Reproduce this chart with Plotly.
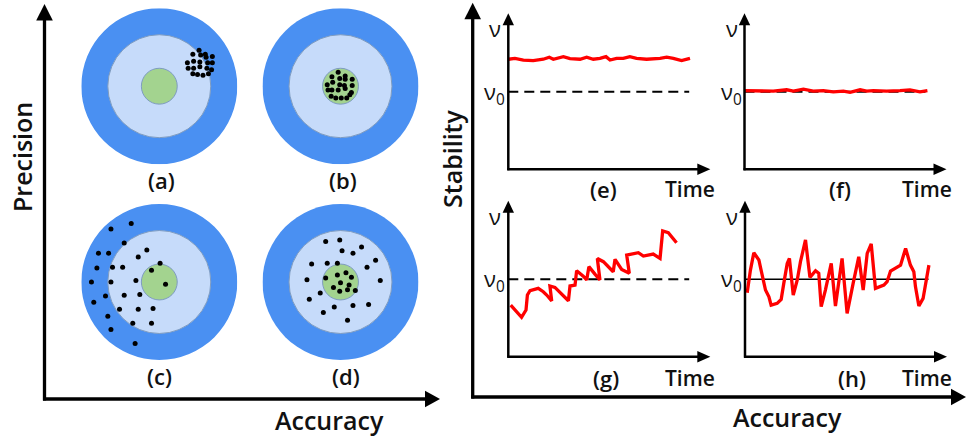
import plotly.graph_objects as go

W, H = 968, 437
FONT = "Open Sans"

# ---- Targets: hit positions, in units of the outer ring radius ----
a_x = [0.51, 0.43, 0.53, 0.59, 0.60, 0.68, 0.36, 0.44, 0.52, 0.62, 0.68,
       0.37, 0.44, 0.52, 0.61, 0.67, 0.43, 0.49, 0.56, 0.63]
a_y = [0.46, 0.41, 0.40, 0.41, 0.37, 0.38, 0.30, 0.32, 0.31, 0.30, 0.30,
       0.23, 0.23, 0.25, 0.23, 0.21, 0.16, 0.15, 0.14, 0.16]

b_x = [-0.03, -0.11, -0.01, 0.06, 0.06, 0.15, -0.17, -0.10, -0.01, 0.05, 0.15,
       -0.16, -0.11, -0.03, 0.06, 0.14, -0.12, -0.06, 0.01, 0.08, 0.12]
b_y = [0.18, 0.12, 0.10, 0.13, 0.09, 0.09, 0.02, 0.05, 0.02, 0.01, 0.01,
       -0.05, -0.05, -0.05, -0.03, -0.08, -0.13, -0.15, -0.15, -0.15, -0.11]

c_x = [-0.62, -0.36, -0.45, -0.78, -0.65, -0.16, -0.27, -0.80, -0.60, -0.47,
       0.01, -0.10, -0.87, -0.62, -0.30, 0.08, -0.84, -0.69, -0.45, -0.25,
       -0.51, -0.27, -0.08, -0.66, -0.34, -0.10, -0.62, -0.31]
c_y = [0.68, 0.75, 0.50, 0.37, 0.37, 0.41, 0.32, 0.18, 0.19, 0.19,
       0.24, 0.15, 0.00, 0.00, 0.02, -0.03, -0.26, -0.18, -0.17, -0.16,
       -0.35, -0.35, -0.34, -0.44, -0.53, -0.53, -0.61, -0.79]

d_x = [-0.19, -0.01, 0.27, 0.02, 0.16, 0.45, -0.37, -0.17, -0.04, 0.34,
       -0.43, -0.19, -0.04, 0.07, 0.14, 0.51, -0.09, 0.00, 0.11, -0.26,
       -0.01, 0.09, 0.19, -0.40, -0.08, 0.16, 0.36, -0.22, 0.09]
d_y = [0.52, 0.54, 0.45, 0.40, 0.37, 0.28, 0.23, 0.24, 0.24, 0.19,
       0.03, 0.05, 0.09, 0.12, 0.06, 0.02, -0.07, -0.01, -0.04, -0.14,
       -0.12, -0.10, -0.11, -0.22, -0.32, -0.30, -0.29, -0.39, -0.49]

# ring radii (outer ring = 1)
R_OUTER, R_MID, R_CORE = 1.0, 0.66, 0.23

# ---- Stability over time ----
NU0 = 5.0

e_t = [0.00, 0.33, 0.75, 1.24, 1.74, 2.04, 2.24, 2.74, 3.07, 3.57, 3.90, 4.23,
       4.56, 4.86, 5.06, 5.39, 5.72, 6.05, 6.38, 6.88, 7.55, 7.88, 8.21, 8.62, 9.04]
e_v = [7.10, 7.16, 7.05, 7.01, 7.10, 7.23, 7.10, 7.27, 7.14, 7.10, 7.23, 7.10,
       7.16, 7.27, 7.05, 7.16, 7.16, 7.27, 7.16, 7.10, 7.16, 7.23, 7.16, 7.01, 7.16]

f_t = [0.00, 0.77, 1.43, 2.10, 2.43, 2.93, 3.42, 3.92, 4.42, 4.92, 5.25, 5.75,
       6.08, 6.41, 7.07, 7.74, 8.23, 8.73, 9.10]
f_v = [5.08, 5.08, 5.04, 5.13, 5.04, 5.17, 5.04, 5.08, 5.00, 5.04, 4.96, 5.13,
       5.04, 5.08, 5.04, 5.08, 5.13, 5.00, 5.08]

g_t = [0.12, 0.33, 0.66, 0.88, 0.95, 1.08, 1.49, 1.74, 1.91, 2.16, 2.07, 2.32,
       2.65, 2.99, 3.07, 3.32, 3.40, 3.73, 3.90, 4.01, 4.31, 4.56, 4.43, 4.73,
       5.22, 5.31, 5.64, 6.02, 5.89, 6.47, 6.72, 7.21, 7.55, 7.68, 7.96, 8.37]
g_v = [3.33, 3.01, 2.54, 3.01, 3.98, 4.26, 4.41, 4.19, 3.98, 3.59, 4.56, 4.47,
       4.04, 3.61, 4.56, 4.62, 5.55, 5.20, 4.95, 5.81, 5.33, 4.95, 6.34, 6.13,
       5.48, 6.28, 5.63, 5.38, 6.56, 6.71, 6.49, 6.62, 6.34, 8.11, 8.00, 7.35]

h_t = [0.11, 0.27, 0.44, 0.69, 0.80, 1.02, 1.19, 1.30, 1.60, 1.80, 1.93, 2.10,
       2.21, 2.40, 2.60, 2.76, 3.01, 3.23, 3.51, 3.67, 3.79, 4.00, 4.29, 4.50,
       4.83, 5.08, 5.38, 5.66, 5.88, 6.08, 6.28, 6.49, 6.91, 7.07, 7.24, 7.49,
       7.74, 7.99, 8.23, 8.40, 8.48, 8.65, 8.86, 9.15]
h_v = [4.13, 5.59, 6.71, 6.24, 5.59, 4.30, 3.87, 3.33, 3.44, 3.70, 4.73, 6.02,
       6.34, 3.98, 4.95, 6.13, 7.53, 5.12, 5.55, 5.38, 3.23, 4.30, 6.02, 3.27,
       6.34, 2.80, 4.73, 6.45, 4.30, 6.67, 7.27, 4.41, 4.62, 4.84, 5.53, 5.74,
       5.91, 6.99, 5.91, 5.48, 4.52, 3.27, 3.76, 5.91]

TARGET_LABELS = ["(a)", "(b)", "(c)", "(d)"]
CHART_LABELS = ["(e)", "(f)", "(g)", "(h)"]

BLUE, LIGHT, GREEN, EDGE = "#4a90f2", "#c6dbfa", "#a3d38f", "#7f9cc0"
INK = "#111111"


def px(x):
    return x / W


def py(y):
    return 1 - y / H


def label(x, y, text, size, weight=600, angle=0, xanchor="center", yanchor="middle",
          yref="paper", yshift=0):
    return dict(xref="paper", yref=yref, x=px(x), y=(py(y) if yref == "paper" else y),
                xanchor=xanchor, yanchor=yanchor, yshift=yshift, text=text,
                textangle=angle, showarrow=False,
                font=dict(family=FONT, size=size, color=INK, weight=weight))


fig = go.Figure()
layout = {}
shapes = []
annotations = []


def ax_names(k):
    s = "" if k == 1 else str(k)
    return f"xaxis{s}", f"yaxis{s}", f"x{s}", f"y{s}"


# ---- four targets ----
targets = [
    (159.3, 86.2, a_x, a_y, (161, 180)),
    (340.5, 86.2, b_x, b_y, (343, 180)),
    (159.3, 282.0, c_x, c_y, (159, 376)),
    (340.5, 282.0, d_x, d_y, (346, 376)),
]
RPX = 78.0
for i, (cx, cy, xs, ys, lab) in enumerate(targets):
    k = i + 1
    xa, ya, xr, yr = ax_names(k)
    layout[xa] = dict(domain=[px(cx - RPX), px(cx + RPX)], range=[-1, 1],
                      visible=False, fixedrange=True)
    layout[ya] = dict(domain=[py(cy + RPX), py(cy - RPX)], range=[-1, 1],
                      visible=False, fixedrange=True)
    for r, col, lw in [(R_OUTER, BLUE, 0), (R_MID, LIGHT, 1), (R_CORE, GREEN, 1)]:
        shapes.append(dict(type="circle", xref=xr, yref=yr, x0=-r, x1=r, y0=-r, y1=r,
                           fillcolor=col, line=dict(color=EDGE, width=lw), layer="below"))
    fig.add_trace(go.Scatter(x=xs, y=ys, mode="markers", xaxis=xr, yaxis=yr,
                             marker=dict(color="black", size=5), hoverinfo="skip"))
    annotations.append(label(lab[0], lab[1], TARGET_LABELS[i], 22))

# ---- four stability charts ----
T_PX = 20.1   # pixels per time unit
V_PX = 15.5   # pixels per stability unit
charts = [
    (508.3, 169.3, e_t, e_v, 9.0, "dash", (603, 189), (690, 189)),
    (744.5, 169.3, f_t, f_v, 9.0, "dash", (840, 189), (927, 189)),
    (508.3, 356.7, g_t, g_v, 9.0, "dash", (606, 378), (690, 378)),
    (745.0, 356.7, h_t, h_v, 9.13, "solid", (852, 378), (927, 378)),
]
for i, (x0, yb, ts, vs, t_end, dash, lab, tlab) in enumerate(charts):
    k = i + 5
    xa, ya, xr, yr = ax_names(k)
    layout[xa] = dict(domain=[px(x0), px(x0 + 10 * T_PX)], range=[0, 10],
                      visible=False, fixedrange=True)
    layout[ya] = dict(domain=[py(yb), py(yb - 10 * V_PX)], range=[0, 10],
                      visible=False, fixedrange=True)
    fig.add_trace(go.Scatter(x=[0, t_end], y=[NU0, NU0], mode="lines", xaxis=xr, yaxis=yr,
                             line=dict(color="black", width=2 if dash == "dash" else 1.5,
                                       dash="10px,6px" if dash == "dash" else "solid"),
                             hoverinfo="skip"))
    fig.add_trace(go.Scatter(x=ts, y=vs, mode="lines", xaxis=xr, yaxis=yr,
                             line=dict(color="#ff0000", width=3.3), hoverinfo="skip"))

    # axes with arrowheads
    shapes.append(dict(type="line", xref="paper", yref="paper", x0=px(x0), x1=px(x0),
                       y0=py(yb + 1), y1=py(yb - 146), line=dict(color="black", width=2.5)))
    shapes.append(dict(type="line", xref="paper", yref="paper", x0=px(x0 - 1), x1=px(x0 + 190),
                       y0=py(yb), y1=py(yb), line=dict(color="black", width=2.5)))
    tip_y = yb - 156
    shapes.append(dict(type="path", xref="paper", yref="paper", fillcolor="black",
                       line=dict(width=0),
                       path=f"M{px(x0)},{py(tip_y)} L{px(x0 - 5.7)},{py(tip_y + 12)} "
                            f"L{px(x0 + 5.7)},{py(tip_y + 12)} Z"))
    tip_x = x0 + 202
    shapes.append(dict(type="path", xref="paper", yref="paper", fillcolor="black",
                       line=dict(width=0),
                       path=f"M{px(tip_x)},{py(yb)} L{px(tip_x - 13)},{py(yb - 5.8)} "
                            f"L{px(tip_x - 13)},{py(yb + 5.8)} Z"))

    # v and v0 markers
    annotations.append(label(x0 - 5, yb - 141, "ν", 22, weight=400, xanchor="right"))
    annotations.append(label(x0 - 1, NU0, "ν<sub>0</sub>", 22, weight=400, xanchor="right",
                             yref=yr, yshift=-1))
    annotations.append(label(lab[0], lab[1], CHART_LABELS[i], 22))
    annotations.append(label(tlab[0], tlab[1], "Time", 21))


# ---- the two big framing axes ----
def big_axes(xv, ybot, ytip, xtip):
    shapes.append(dict(type="line", xref="paper", yref="paper", x0=px(xv), x1=px(xv),
                       y0=py(ybot + 1.5), y1=py(ytip + 15), line=dict(color="black", width=3.3)))
    shapes.append(dict(type="line", xref="paper", yref="paper", x0=px(xv - 1.5), x1=px(xtip - 14),
                       y0=py(ybot), y1=py(ybot), line=dict(color="black", width=3.3)))
    shapes.append(dict(type="path", xref="paper", yref="paper", fillcolor="black",
                       line=dict(width=0),
                       path=f"M{px(xv)},{py(ytip)} L{px(xv - 8.3)},{py(ytip + 16.5)} "
                            f"L{px(xv + 8.3)},{py(ytip + 16.5)} Z"))
    shapes.append(dict(type="path", xref="paper", yref="paper", fillcolor="black",
                       line=dict(width=0),
                       path=f"M{px(xtip)},{py(ybot)} L{px(xtip - 15)},{py(ybot - 8.3)} "
                            f"L{px(xtip - 15)},{py(ybot + 8.3)} Z"))


big_axes(44.5, 399, 4, 440)
big_axes(472.7, 397, 2.7, 966)

annotations += [
    label(22, 157, "Precision", 25, angle=-90),
    label(329, 420, "Accuracy", 25),
    label(452, 159, "Stability", 25, angle=-90),
    label(787, 417, "Accuracy", 25),
]

fig.update_layout(
    width=W, height=H, autosize=False,
    margin=dict(l=0, r=0, t=0, b=0, pad=0),
    paper_bgcolor="white", plot_bgcolor="rgba(0,0,0,0)",
    showlegend=False,
    shapes=shapes, annotations=annotations,
    **layout,
)

fig.write_html("out.html", config={"displayModeBar": False})
